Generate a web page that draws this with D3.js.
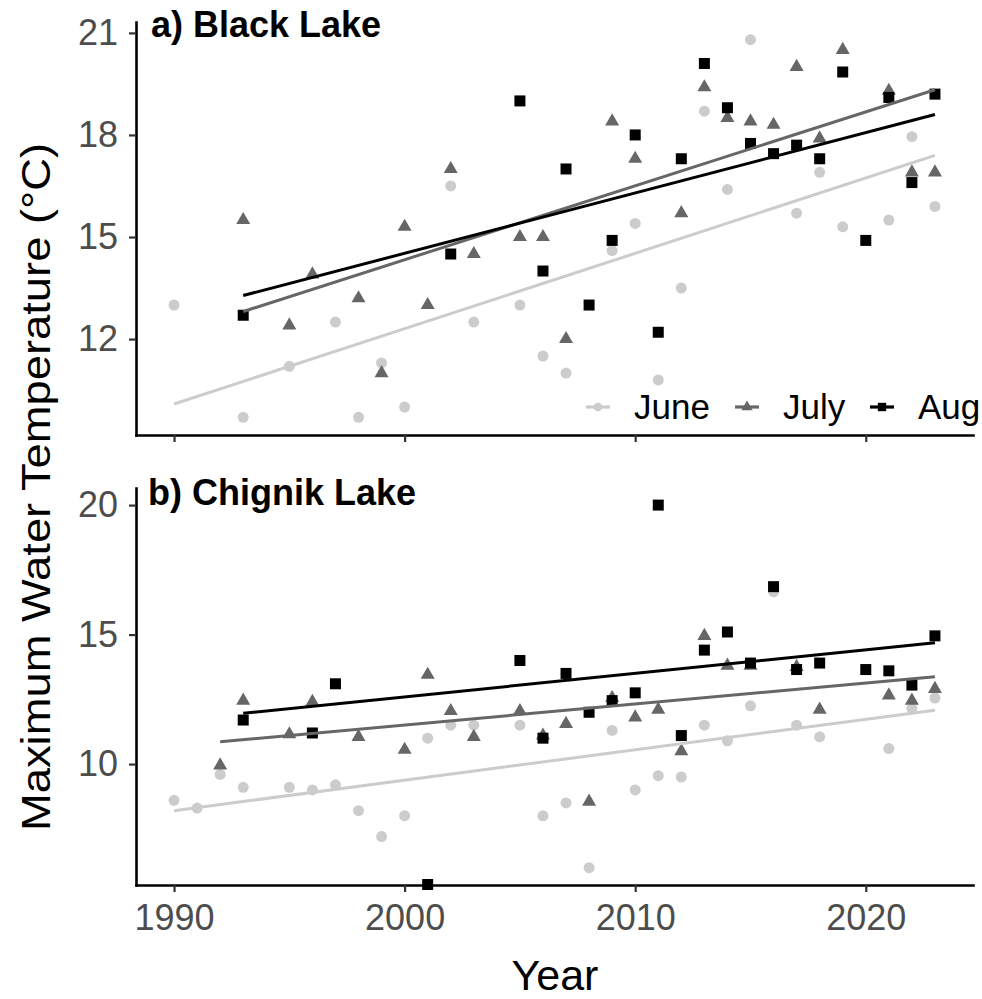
<!DOCTYPE html>
<html>
<head>
<meta charset="utf-8">
<script src="https://cdn.jsdelivr.net/npm/d3@7"></script>
<style>
  body { margin: 0; background: #fff; }
  text { font-family: "Liberation Sans", Arial, sans-serif; }
</style>
</head>
<body>
<script>
// series: [year, max water temperature]
const blackJune = [[1990,13.0],[1993,9.7],[1995,11.2],[1997,12.5],[1998,9.7],[1999,11.3],[2000,10.0],[2002,16.5],[2003,12.5],[2005,13.0],[2006,11.5],[2007,11.0],[2009,14.6],[2010,15.4],[2011,10.8],[2012,13.5],[2013,18.7],[2014,16.4],[2015,20.8],[2017,15.7],[2018,16.9],[2019,15.3],[2021,15.5],[2022,17.95],[2023,15.9]]
const blackJuly = [[1993,15.5],[1995,12.4],[1996,13.9],[1998,13.2],[1999,11.0],[2000,15.3],[2001,13.0],[2002,17.0],[2003,14.5],[2005,15.0],[2006,15.0],[2007,12.0],[2009,18.4],[2010,17.3],[2012,15.7],[2013,19.4],[2014,18.5],[2015,18.4],[2016,18.3],[2017,20.0],[2018,17.9],[2019,20.5],[2021,19.3],[2022,16.9],[2023,16.9]]
const blackAug = [[1993,12.7],[2002,14.5],[2005,19.0],[2006,14.0],[2007,17.0],[2008,13.0],[2009,14.9],[2010,18.0],[2011,12.2],[2012,17.3],[2013,20.1],[2014,18.8],[2015,17.75],[2016,17.45],[2017,17.7],[2018,17.3],[2019,19.85],[2020,14.9],[2021,19.1],[2022,16.6],[2023,19.2]]

const chignikJune = [[1990,8.6],[1991,8.3],[1992,9.6],[1993,9.1],[1995,9.1],[1996,9.0],[1997,9.2],[1998,8.2],[1999,7.2],[2000,8.0],[2001,11.0],[2002,11.5],[2003,11.5],[2005,11.5],[2006,8.0],[2007,8.5],[2008,6.0],[2009,11.3],[2010,9.0],[2011,9.55],[2012,9.5],[2013,11.5],[2014,10.9],[2015,12.25],[2016,16.65],[2017,11.5],[2018,11.05],[2021,10.6],[2022,12.15],[2023,12.55]]
const chignikJuly = [[1992,9.95],[1993,12.45],[1995,11.15],[1996,12.4],[1998,11.05],[2000,10.55],[2001,13.45],[2002,12.05],[2003,11.05],[2005,12.05],[2006,11.1],[2007,11.55],[2008,8.55],[2009,12.55],[2010,11.8],[2011,12.1],[2012,10.5],[2013,14.95],[2014,13.8],[2015,13.8],[2017,13.75],[2018,12.1],[2021,12.65],[2022,12.45],[2023,12.9]]
const chignikAug = [[1993,11.7],[1996,11.2],[1997,13.1],[2001,5.35],[2005,14.0],[2006,11.0],[2007,13.5],[2008,12.0],[2009,12.45],[2010,12.75],[2011,20.0],[2012,11.1],[2013,14.4],[2014,15.1],[2015,13.9],[2016,16.85],[2017,13.65],[2018,13.9],[2020,13.65],[2021,13.6],[2022,13.05],[2023,14.95]]

// trend line values at the first and last year of each month (June, July, Aug)
const blackTrendStart = [10.09, 12.81, 13.28]
const blackTrendEnd = [17.4, 19.33, 18.6]
const chignikTrendStart = [8.2, 10.86, 11.96]
const chignikTrendEnd = [12.08, 13.37, 14.68]

const months = ["June", "July", "Aug"]
const yearTicks = [1990, 2000, 2010, 2020]
const blackTicks = [12, 15, 18, 21]
const chignikTicks = [10, 15, 20]

// look of each month
const colors = ["#cccccc", "#666666", "#000000"]
const symbols = [d3.symbolCircle, d3.symbolTriangle, d3.symbolSquare]
const symbolSizes = [95, 85, 121]
const legendSizes = [60, 55, 70]

const svg = d3.select("body").append("svg")
    .attr("width", 982)
    .attr("height", 999)

const x = d3.scaleLinear().domain([1988.35, 2024.65]).range([136, 973])

const panels = [
    { title: "a) Black Lake", series: [blackJune, blackJuly, blackAug],
      trendStart: blackTrendStart, trendEnd: blackTrendEnd, domain: [9.18, 21.32],
      range: [435, 22], ticks: blackTicks, titleX: 151, titleY: 37, xLabels: false, legend: true },
    { title: "b) Chignik Lake", series: [chignikJune, chignikJuly, chignikAug],
      trendStart: chignikTrendStart, trendEnd: chignikTrendEnd, domain: [5.33, 20.66],
      range: [885, 488], ticks: chignikTicks, titleX: 148, titleY: 505, xLabels: true, legend: false }
]

panels.forEach(function(p) {
    const y = d3.scaleLinear().domain(p.domain).range(p.range)
    const g = svg.append("g")

    // points, one layer per month
    p.series.forEach(function(data, i) {
        g.selectAll(".pt" + i)
            .data(data)
            .enter().append("path")
            .attr("d", d3.symbol().type(symbols[i]).size(symbolSizes[i]))
            .attr("transform", d => "translate(" + x(d[0]) + "," + y(d[1]) + ")")
            .style("fill", colors[i])
    })

    // trend lines on top, spanning the years of each month
    const line = d3.line().x(d => x(d[0])).y(d => y(d[1]))
    p.series.forEach(function(data, i) {
        const years = d3.extent(data, d => d[0])
        g.append("path")
            .attr("d", line([[years[0], p.trendStart[i]], [years[1], p.trendEnd[i]]]))
            .style("fill", "none")
            .style("stroke", colors[i])
            .style("stroke-width", 3)
    })

    // axes
    const yAxis = d3.axisLeft(y).tickValues(p.ticks).tickSize(7).tickSizeOuter(0).tickPadding(11)
    const xAxis = d3.axisBottom(x).tickValues(yearTicks).tickSize(7).tickSizeOuter(0).tickPadding(12)
        .tickFormat(p.xLabels ? d3.format("d") : "")

    const ya = g.append("g").attr("transform", "translate(" + x.range()[0] + ",0)").call(yAxis)
    const xa = g.append("g").attr("transform", "translate(0," + p.range[0] + ")").call(xAxis)

    ;[ya, xa].forEach(function(a) {
        a.select(".domain").style("stroke", "#000").style("stroke-width", 2.6).style("stroke-linecap", "square")
        a.selectAll(".tick line").style("stroke", "#333").style("stroke-width", 2.2)
        a.selectAll(".tick text").style("fill", "#4d4d4d").style("font-size", "36px")
            .style("font-family", "'Liberation Sans', Arial, sans-serif")
    })

    // panel title
    g.append("text")
        .attr("x", p.titleX)
        .attr("y", p.titleY)
        .style("font-size", "36px")
        .style("font-weight", "bold")
        .text(p.title)

    // legend inside the top panel
    if (p.legend) {
        const keyX = [598, 747, 882]
        const keyY = 407
        months.forEach(function(m, i) {
            g.append("line")
                .attr("x1", keyX[i] - 12).attr("x2", keyX[i] + 12)
                .attr("y1", keyY).attr("y2", keyY)
                .style("stroke", colors[i])
                .style("stroke-width", 3.2)
            g.append("path")
                .attr("d", d3.symbol().type(symbols[i]).size(legendSizes[i]))
                .attr("transform", "translate(" + keyX[i] + "," + keyY + ")")
                .style("fill", colors[i])
            g.append("text")
                .attr("x", keyX[i] + 36)
                .attr("y", keyY + 12)
                .style("font-size", "35px")
                .style("fill", "#000")
                .text(m)
        })
    }
})

// shared axis titles
svg.append("text")
    .attr("x", 555)
    .attr("y", 990)
    .attr("text-anchor", "middle")
    .style("font-size", "43px")
    .text("Year")

svg.append("text")
    .attr("transform", "translate(50,487) rotate(-90)")
    .attr("text-anchor", "middle")
    .attr("textLength", 688)
    .attr("lengthAdjust", "spacingAndGlyphs")
    .style("font-size", "40px")
    .text("Maximum Water Temperature (°C)")
</script>
</body>
</html>
